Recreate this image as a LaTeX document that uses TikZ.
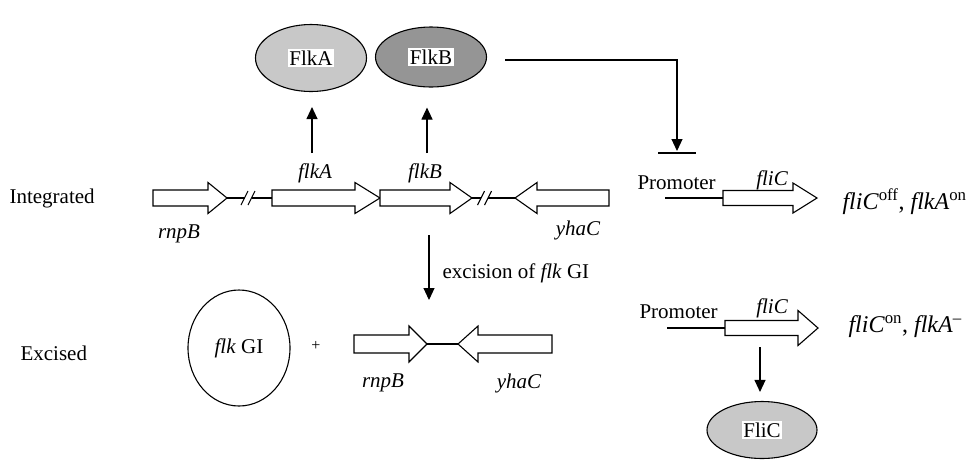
\documentclass[tikz,border=0pt]{standalone}
\usepackage{fontspec}
\setmainfont{Liberation Serif}
\usetikzlibrary{shapes.geometric,arrows.meta,calc}
\definecolor{lgray}{HTML}{C8C8C8}
\definecolor{dgray}{HTML}{959595}
\newcommand\generight[7]{%
  \draw[gene] (#2,#4-#6) -- (#3-#5,#4-#6) -- (#3-#5,#4-#7) -- (#3,#4) -- (#3-#5,#4+#7) -- (#3-#5,#4+#6) -- (#2,#4+#6) -- cycle;
  \coordinate (#1-tail) at (#2,#4); \coordinate (#1-tip) at (#3,#4);}
\newcommand\geneleft[7]{%
  \draw[gene] (#3,#4-#6) -- (#2+#5,#4-#6) -- (#2+#5,#4-#7) -- (#2,#4) -- (#2+#5,#4+#7) -- (#2+#5,#4+#6) -- (#3,#4+#6) -- cycle;
  \coordinate (#1-tip) at (#2,#4); \coordinate (#1-tail) at (#3,#4);}
\newcommand\brkmarks[1]{%
  \draw ([shift={(-3.5,7)}]#1) -- ([shift={(3.5,-7)}]#1);}
\begin{document}
\begin{tikzpicture}[x=1pt,y=-1pt,line width=1.1pt,
  lbl/.style={inner sep=0pt,font=\fontsize{21}{25}\selectfont},
  glbl/.style={inner sep=0pt,font=\fontsize{21}{25}\selectfont\itshape},
  rlbl/.style={inner sep=0pt,font=\fontsize{24}{28}\selectfont},
  gene/.style={draw=black,fill=white,line width=1.1pt,line join=miter},
  arr/.style={-{Triangle[length=12pt,width=11pt]},line width=1.1pt},
  prot/.style={ellipse,draw=black,line width=1.1pt,inner sep=0pt},
  ptxt/.style={fill=white,inner sep=1.5pt,font=\fontsize{21}{25}\selectfont}]
\useasboundingbox (0,0) rectangle (971,459);
\fill[white] (0,0) rectangle (971,459);

% proteins
\node[prot,fill=lgray,minimum width=111pt,minimum height=67pt] (FlkA) at (311,58) {};
\node[ptxt] (FlkAtxt) at (FlkA) {FlkA};
\node[prot,fill=dgray,minimum width=111pt,minimum height=60pt] (FlkB) at (431,57) {};
\node[ptxt] (FlkBtxt) at (FlkB) {FlkB};
\node[prot,fill=lgray,minimum width=110pt,minimum height=57pt] (FliC) at (762,430) {};
\node[ptxt] (FliCtxt) at (FliC) {FliC};

% row labels
\node[lbl,anchor=west] (intlbl) at (9,198) {Integrated};
\node[lbl,anchor=west] (exclbl) at (20,353) {Excised};

% integrated genes
\generight{rnpB}{153}{227}{198}{19}{8}{15.5}
\generight{flkA}{272}{380}{198}{25}{8}{15.5}
\generight{flkB}{380}{472}{198}{22}{8}{15.5}
\geneleft{yhaC}{515}{609}{198}{22}{8}{15.5}
\coordinate (b1a) at (244.5,198); \coordinate (b1b) at (251.5,198);
\coordinate (b2a) at (481,198); \coordinate (b2b) at (488,198);
\draw (rnpB-tip) -- (b1a); \draw (b1b) -- (flkA-tail);
\draw (flkB-tip) -- (b2a); \draw (b2b) -- (yhaC-tip);
\brkmarks{b1a}\brkmarks{b1b}\brkmarks{b2a}\brkmarks{b2b}

\node[glbl] (rnpBlbl) at (179,234) {rnpB};
\node[glbl] (flkAlbl) at (315,173) {flkA};
\node[glbl] (flkBlbl) at (425,173) {flkB};
\node[glbl] (yhaClbl) at (578,230) {yhaC};

% expression arrows
\coordinate (flkAsrc) at (312,153);
\coordinate (flkBsrc) at (427,153);
\draw[arr,shorten >=15pt] (flkAsrc) -- (flkAsrc |- FlkA.south);
\draw[arr,shorten >=20pt] (flkBsrc) -- (flkBsrc |- FlkB.south);

% repression of fliC promoter
\coordinate (inhcorner) at (677,60);
\coordinate (inhtip) at (677,151);
\coordinate (inhbar) at (677,153);
\draw[arr] ($(FlkB.east)+(18,3)$) -- (inhcorner) -- (inhtip);
\draw ([xshift=-19pt]inhbar) -- ([xshift=19pt]inhbar);

% fliC integrated
\node[lbl,anchor=west] (prom1) at (637,183) {Promoter};
\coordinate (p1) at (665,198);
\generight{fliCa}{723}{817}{198}{24}{7.5}{15}
\draw (p1) -- (fliCa-tail);
\node[glbl] (fliCalbl) at (772,180) {fliC};
\node[rlbl,anchor=west] (st1) at (842,202) {\textit{fliC}\textsuperscript{off}, \textit{flkA}\textsuperscript{on}};

% excision
\coordinate (excA) at (429,235);
\coordinate (excB) at (429,300);
\draw[arr] (excA) -- (excB);
\node[lbl,anchor=west] (exc) at (442,273) {excision of \textit{flk} GI};

% excised row
\node[ellipse,draw=black,line width=1.1pt,minimum width=102pt,minimum height=116pt,inner sep=0pt,font=\fontsize{21}{25}\selectfont] (flkGI) at (239,348) {\textit{flk} GI};
\node[font=\fontsize{16}{18}\selectfont,inner sep=0pt] (plus) at (316,346) {+};
\generight{rnpBb}{354}{427}{344}{18}{9}{18}
\geneleft{yhaCb}{458}{552}{344}{20}{9}{18}
\draw (rnpBb-tip) -- (yhaCb-tip);
\node[glbl] (rnpBblbl) at (383,383) {rnpB};
\node[glbl] (yhaCblbl) at (519,383) {yhaC};

% fliC excised
\node[lbl,anchor=west] (prom2) at (639,312) {Promoter};
\coordinate (p2) at (667,328);
\generight{fliCb}{725}{818}{328}{20}{7.5}{17.5}
\draw (p2) -- (fliCb-tail);
\node[glbl] (fliCblbl) at (772,308) {fliC};
\node[rlbl,anchor=west] (st2) at (848,327) {\textit{fliC}\textsuperscript{on}, \textit{flkA}\textsuperscript{–}};
\coordinate (fliCsrc) at (760,347);
\draw[arr,shorten >=9pt] (fliCsrc) -- (fliCsrc |- FliC.north);
\end{tikzpicture}
\end{document}
